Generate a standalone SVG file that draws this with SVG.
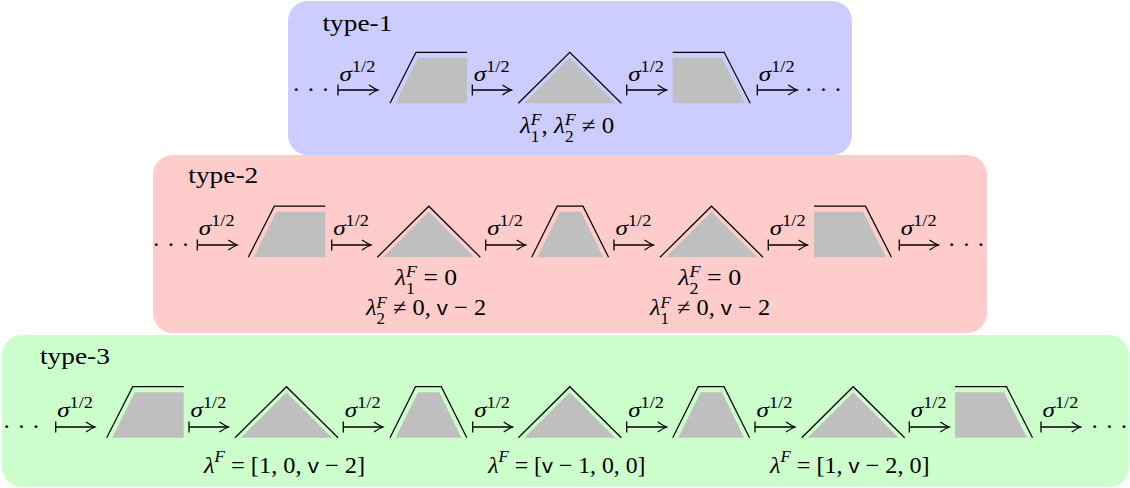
<svg xmlns="http://www.w3.org/2000/svg" width="1130" height="488" viewBox="0 0 1130 488">
<style>
text { font-family: "Liberation Serif", "Times New Roman", serif; font-size: 23px; fill: #000; }
.hd { font-size: 24px; }
.it { font-style: italic; }
.up { font-style: normal; }
.sc { font-size: 16px; }
.sf { font-family: "Liberation Sans", Arial, sans-serif; font-size: 21px; font-style: normal; }
.dt { font-size: 24px; }
.ol { fill: none; stroke: #000; stroke-width: 1.2; }
.fl { fill: #bfbfbf; }
.cn path { fill: none; stroke: #000; stroke-width: 1.3; marker-end: url(#mh); }
.b1 { fill: #ccccff; }
.b2 { fill: #ffcccc; }
.b3 { fill: #ccffcc; }
</style>
<defs>
<marker id="mh" markerUnits="userSpaceOnUse" markerWidth="16" markerHeight="16" viewBox="-13 -8 16 16" refX="0" refY="0" orient="auto">
<path d="M-9,-5 Q-3.5,-1.3 0,0 Q-3.5,1.3 -9,5" fill="none" stroke="#000" stroke-width="1.3"/>
</marker>
<text id="sig" class="it" style="font-size:22px" transform="scale(1.145,1)">σ<tspan class="sc up" dy="-9">1/2</tspan></text>
<g id="shA"><path class="fl" d="M5.5,51 L28,5.5 L77,5.5 L77,51Z"/><path class="ol" d="M0,51 L26,0 L77,0"/></g>
<g id="shB"><path class="fl" d="M6,51 L51.5,5.5 L97,51Z"/><path class="ol" d="M0,51 L51.5,0 L103,51"/></g>
<g id="shC"><path class="fl" d="M0,5.5 L49,5.5 L72,51 L0,51Z"/><path class="ol" d="M0,0 L51.5,0 L77.5,51"/></g>
<g id="shD"><path class="fl" d="M5.5,51 L28,5.5 L49.3,5.5 L71.5,51Z"/><path class="ol" d="M0,51 L25.5,0 L51.3,0 L76.8,51"/></g>
</defs>

<g id="type-1">
<rect class="b1" x="288" y="1" width="564" height="154" rx="20"/>
<text class="hd" transform="translate(322.5,30.5) scale(1.14,1)">type-1</text>
<text class="dt" transform="translate(292,97) scale(1.05,1)">· · ·</text>
<text class="dt" transform="translate(804.5,97) scale(1.05,1)">· · ·</text>
<text transform="translate(520,133) scale(1.09,1)"><tspan class="it">λ</tspan><tspan class="sc" dy="9">1</tspan><tspan class="it sc" dx="-8" dy="-17.5">F</tspan><tspan dy="8.5">, </tspan><tspan class="it">λ</tspan><tspan class="sc" dy="9">2</tspan><tspan class="it sc" dx="-8" dy="-17.5">F</tspan><tspan dy="8.5"> ≠ 0</tspan></text>
</g>

<g id="type-2">
<rect class="b2" x="153" y="155" width="834" height="178" rx="20"/>
<text class="hd" transform="translate(188.3,182.5) scale(1.14,1)">type-2</text>
<text class="dt" transform="translate(152,252) scale(1.05,1)">· · ·</text>
<text class="dt" transform="translate(947.5,252) scale(1.05,1)">· · ·</text>
<text transform="translate(395,285) scale(1.115,1)"><tspan class="it">λ</tspan><tspan class="sc" dy="8.5">1</tspan><tspan class="it sc" dx="-8" dy="-16.5">F</tspan><tspan dy="8"> = 0</tspan></text>
<text transform="translate(366,315) scale(1.06,1)"><tspan class="it">λ</tspan><tspan class="sc" dy="9">2</tspan><tspan class="it sc" dx="-8" dy="-16.5">F</tspan><tspan dy="7.5"> ≠ 0, </tspan><tspan class="sf">v</tspan> − 2</text>
<text transform="translate(678.3,285) scale(1.13,1)"><tspan class="it">λ</tspan><tspan class="sc" dy="8.5">2</tspan><tspan class="it sc" dx="-8" dy="-16.5">F</tspan><tspan dy="8"> = 0</tspan></text>
<text transform="translate(650,315) scale(1.06,1)"><tspan class="it">λ</tspan><tspan class="sc" dy="9">1</tspan><tspan class="it sc" dx="-8" dy="-16.5">F</tspan><tspan dy="7.5"> ≠ 0, </tspan><tspan class="sf">v</tspan> − 2</text>
</g>

<g id="type-3">
<rect class="b3" x="2" y="335" width="1127" height="152" rx="20"/>
<text class="hd" transform="translate(40,363.5) scale(1.14,1)">type-3</text>
<text class="dt" transform="translate(2.5,434) scale(1.05,1)">· · ·</text>
<text class="dt" transform="translate(1090.5,434) scale(1.05,1)">· · ·</text>
<text transform="translate(204,473) scale(1.06,1)"><tspan class="it">λ</tspan><tspan class="it sc" dy="-11.5">F</tspan><tspan dy="11.5"> = [1, 0, </tspan><tspan class="sf">v</tspan> − 2]</text>
<text transform="translate(488.3,473) scale(1.035,1)"><tspan class="it">λ</tspan><tspan class="it sc" dy="-11.5">F</tspan><tspan dy="11.5"> = [</tspan><tspan class="sf">v</tspan> − 1, 0, 0]</text>
<text transform="translate(770,473) scale(1.05,1)"><tspan class="it">λ</tspan><tspan class="it sc" dy="-11.5">F</tspan><tspan dy="11.5"> = [1, </tspan><tspan class="sf">v</tspan> − 2, 0]</text>
</g>

<g id="n1-1" transform="translate(390,52.3)"><use href="#shA"/></g>
<g id="n1-2" transform="translate(518.3,52.3)"><use href="#shB"/></g>
<g id="n1-3" transform="translate(672.7,52.3)"><use href="#shC"/></g>

<g id="n2-1" transform="translate(248.3,206.2)"><use href="#shA"/></g>
<g id="n2-2" transform="translate(377.3,206.2)"><use href="#shB"/></g>
<g id="n2-3" transform="translate(531.7,206.2)"><use href="#shD"/></g>
<g id="n2-4" transform="translate(660,206.2)"><use href="#shB"/></g>
<g id="n2-5" transform="translate(814,206.2)"><use href="#shC"/></g>

<g id="n3-1" transform="translate(106.7,386.7)"><use href="#shA"/></g>
<g id="n3-2" transform="translate(235,386.7)"><use href="#shB"/></g>
<g id="n3-3" transform="translate(390,386.7)"><use href="#shD"/></g>
<g id="n3-4" transform="translate(518.3,386.7)"><use href="#shB"/></g>
<g id="n3-5" transform="translate(672.7,386.7)"><use href="#shD"/></g>
<g id="n3-6" transform="translate(801.7,386.7)"><use href="#shB"/></g>
<g id="n3-7" transform="translate(955,386.7)"><use href="#shC"/></g>

<g id="connectors" class="cn">
<path d="M338,84.5 V95.5 M338,90 H378"/>
<path d="M472.3,84.5 V95.5 M472.3,90 H511.5"/>
<path d="M626.7,84.5 V95.5 M626.7,90 H666.7"/>
<path d="M757.3,84.5 V95.5 M757.3,90 H797.3"/>
<path d="M197.3,239.5 V250.5 M197.3,245 H237.3"/>
<path d="M331.7,239.5 V250.5 M331.7,245 H371"/>
<path d="M485.7,239.5 V250.5 M485.7,245 H525.7"/>
<path d="M614,239.5 V250.5 M614,245 H653.5"/>
<path d="M768.3,239.5 V250.5 M768.3,245 H807.5"/>
<path d="M899.3,239.5 V250.5 M899.3,245 H938.5"/>
<path d="M55.7,421.5 V432.5 M55.7,427 H95"/>
<path d="M189,421.5 V432.5 M189,427 H228.5"/>
<path d="M343.3,421.5 V432.5 M343.3,427 H383"/>
<path d="M472.7,421.5 V432.5 M472.7,427 H512.7"/>
<path d="M626.7,421.5 V432.5 M626.7,427 H666.7"/>
<path d="M755,421.5 V432.5 M755,427 H795"/>
<path d="M909.3,421.5 V432.5 M909.3,427 H949.3"/>
<path d="M1041,421.5 V432.5 M1041,427 H1080.7"/>
<use href="#sig" x="339.5" y="80.5"/>
<use href="#sig" x="473.8" y="80.5"/>
<use href="#sig" x="628.2" y="80.5"/>
<use href="#sig" x="758.8" y="80.5"/>
<use href="#sig" x="198.8" y="235"/>
<use href="#sig" x="333.2" y="235"/>
<use href="#sig" x="487.2" y="235"/>
<use href="#sig" x="615.5" y="235"/>
<use href="#sig" x="769.8" y="235"/>
<use href="#sig" x="900.8" y="235"/>
<use href="#sig" x="57.2" y="416.5"/>
<use href="#sig" x="190.5" y="416.5"/>
<use href="#sig" x="344.8" y="416.5"/>
<use href="#sig" x="474.2" y="416.5"/>
<use href="#sig" x="628.2" y="416.5"/>
<use href="#sig" x="756.5" y="416.5"/>
<use href="#sig" x="910.8" y="416.5"/>
<use href="#sig" x="1042.5" y="416.5"/>
</g>
</svg>
